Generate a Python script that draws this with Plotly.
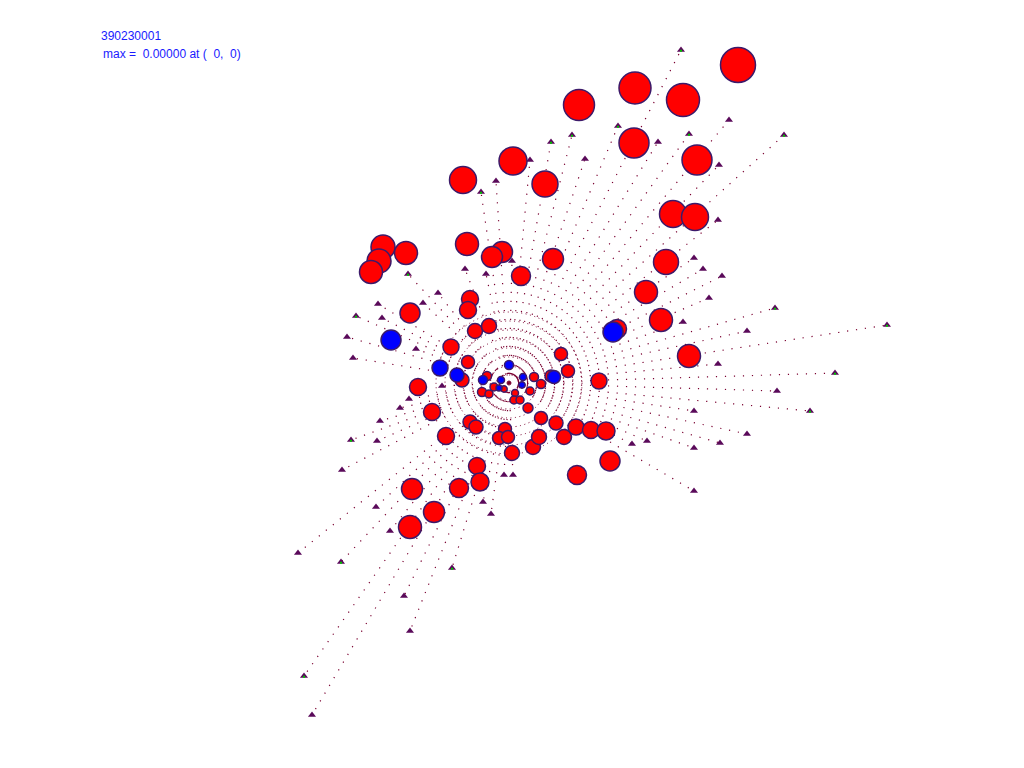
import plotly.graph_objects as go

# ---- data (pixel-like coordinates of the original plot) ----
center = (509, 383)

ring_rx = [13, 19, 28, 37, 46, 55, 64, 73]
ring_ry = [8, 17, 26, 35, 44, 53, 62, 71]

tri_x = [681, 784, 689, 729, 618, 572, 551, 658, 585, 530, 496, 481, 719, 718, 694, 703, 722, 709,
         775, 683, 747, 887, 718, 835, 777, 810, 694, 747, 720, 647, 632, 694, 694,
         408, 356, 382, 347, 353, 378, 438, 423, 465, 486, 512, 416, 351, 377, 342, 380, 400,
         409, 442, 376, 483, 491, 504, 513, 298, 341, 390, 452, 404, 410, 304, 312]
tri_y = [50, 135, 134, 120, 126, 135, 142, 142, 159, 160, 181, 192, 165, 220, 258, 269, 276, 298,
         308, 322, 331, 325, 364, 373, 391, 411, 411, 434, 443, 441, 444, 448, 491,
         274, 316, 318, 337, 358, 304, 293, 303, 269, 274, 261, 349, 440, 441, 470, 421, 408,
         399, 386, 507, 502, 514, 475, 475, 553, 562, 531, 568, 596, 631, 676, 715]
tri_green = [1, 1, 1, 0, 1, 1, 1, 0, 0, 0, 0, 1, 0, 0, 0, 0, 0, 0,
             1, 0, 0, 1, 0, 1, 0, 1, 0, 0, 0, 0, 0, 0, 0,
             1, 1, 0, 0, 0, 0, 0, 0, 0, 0, 0, 0, 1, 0, 0, 0, 0,
             0, 0, 0, 0, 0, 0, 0, 0, 1, 0, 1, 0, 0, 1, 0]

red_x = [738, 635, 683, 579, 634, 697, 513, 463, 545, 673, 695, 467, 502, 492, 553, 521, 666, 646,
         661, 689, 383, 406, 379, 371, 410, 470, 468, 475, 489, 451, 468, 462, 418, 432, 446, 470,
         476, 505, 499, 508, 512, 533, 539, 541, 556, 564, 576, 591, 606, 610, 577, 477, 480, 459,
         412, 434, 410, 599, 561, 568, 617, 551, 487, 534, 541, 494, 504, 482, 489, 515, 530, 514,
         520, 528]
red_y = [65, 88, 100, 105, 143, 160, 161, 180, 184, 214, 217, 244, 252, 257, 259, 276, 262, 292,
         320, 356, 247, 253, 261, 272, 313, 299, 310, 331, 326, 347, 362, 380, 387, 412, 436, 422,
         427, 429, 438, 437, 453, 447, 437, 418, 423, 437, 427, 430, 431, 461, 475, 466, 482, 488,
         489, 512, 527, 381, 354, 371, 329, 376, 376, 377, 384, 387, 389, 392, 394, 393, 391, 400,
         400, 408]
red_r = [17, 15.5, 16, 15, 14.5, 14.5, 13.5, 13, 12.5, 13, 13, 11, 10, 10, 10, 9, 12, 11,
         11, 11, 11.5, 11, 11.5, 11, 9.5, 8, 8, 7, 7, 7.5, 6, 6.5, 8, 8, 8, 6.5,
         6.5, 6, 6, 6, 7, 7, 7, 6, 6.5, 7, 7.5, 8, 8.5, 9.5, 9, 8, 8.5, 9,
         10, 10, 11, 7.5, 6, 6, 9, 5.5, 4, 4, 4, 3.5, 2.7, 4, 3.5, 3, 3.5, 3.5,
         3.5, 4.5]

blue_x = [391, 613, 440, 457, 554, 509, 483, 501, 523, 522, 499]
blue_y = [340, 332, 368, 375, 377, 365, 380, 380, 377, 385, 388]
blue_r = [9.5, 9.5, 7.5, 6.5, 6, 4, 4, 3, 3, 2.7, 2.5]

title_id = "390230001"
title_max = "max =  0.00000 at (  0,  0)"

# ---- styles ----
DOT = "#7a0030"
OUTLINE = "#3c1a6a"
TRI = "#5a0a5a"
FONT = "Liberation Sans, Arial, sans-serif"

fig = go.Figure()

# radial dotted lines from center to each triangle
lx, ly = [], []
for tx, ty in zip(tri_x, tri_y):
    lx += [center[0], tx, None]
    ly += [center[1], ty, None]
fig.add_trace(go.Scatter(x=lx, y=ly, mode="lines",
                         line=dict(color=DOT, width=1.2, dash="1.2px,7.8px"),
                         hoverinfo="skip", showlegend=False))

# concentric dotted rings
for rx, ry in zip(ring_rx, ring_ry):
    fig.add_shape(type="circle", xref="x", yref="y",
                  x0=center[0] - rx, x1=center[0] + rx,
                  y0=center[1] - ry, y1=center[1] + ry,
                  line=dict(color=DOT, width=1.0, dash="1px,3.5px" if rx > 15 else "1px,1.5px"),
                  layer="below")
# tiny center mark
fig.add_trace(go.Scatter(x=[center[0]], y=[center[1]], mode="markers",
                         marker=dict(size=4, color="rgba(0,0,0,0)", line=dict(color=DOT, width=1)),
                         hoverinfo="skip", showlegend=False))

# triangles
fig.add_trace(go.Scatter(x=tri_x, y=tri_y, mode="markers",
                         marker=dict(symbol="triangle-up", size=7, color=TRI, line=dict(width=0)),
                         hoverinfo="skip", showlegend=False))
gx = [x for x, g in zip(tri_x, tri_green) if g]
gy = [y for y, g in zip(tri_y, tri_green) if g]
fig.add_trace(go.Scatter(x=gx, y=[y + 0.8 for y in gy], mode="markers",
                         marker=dict(symbol="square", size=2, color="#00c000", line=dict(width=0)),
                         hoverinfo="skip", showlegend=False))

# red circles
fig.add_trace(go.Scatter(x=red_x, y=red_y, mode="markers",
                         marker=dict(size=[2 * r + 1 for r in red_r], color="#ff0000",
                                     line=dict(color=OUTLINE, width=1.5), opacity=1),
                         hoverinfo="skip", showlegend=False))
# blue circles
fig.add_trace(go.Scatter(x=blue_x, y=blue_y, mode="markers",
                         marker=dict(size=[2 * r + 1 for r in blue_r], color="#0000ff",
                                     line=dict(color=OUTLINE, width=1.5), opacity=1),
                         hoverinfo="skip", showlegend=False))

fig.add_annotation(x=99, y=36, xref="x", yref="y", text=title_id, showarrow=False,
                   xanchor="left", yanchor="middle", xshift=0,
                   font=dict(family=FONT, size=12, color="#1a1aff"))
fig.add_annotation(x=101, y=54, xref="x", yref="y", text=title_max.replace(" ", "\u00a0"),
                   showarrow=False, xanchor="left", yanchor="middle",
                   font=dict(family=FONT, size=12, color="#1a1aff"))

fig.update_xaxes(range=[0, 1024], visible=False, showgrid=False, zeroline=False, fixedrange=True)
fig.update_yaxes(range=[768, 0], visible=False, showgrid=False, zeroline=False, fixedrange=True)
fig.update_layout(width=1024, height=768, margin=dict(l=0, r=0, t=0, b=0),
                  paper_bgcolor="white", plot_bgcolor="white", showlegend=False)

fig.write_html("out.html", config={"displayModeBar": False},
               post_script="document.body.style.margin='0';document.body.style.overflow='hidden';")
